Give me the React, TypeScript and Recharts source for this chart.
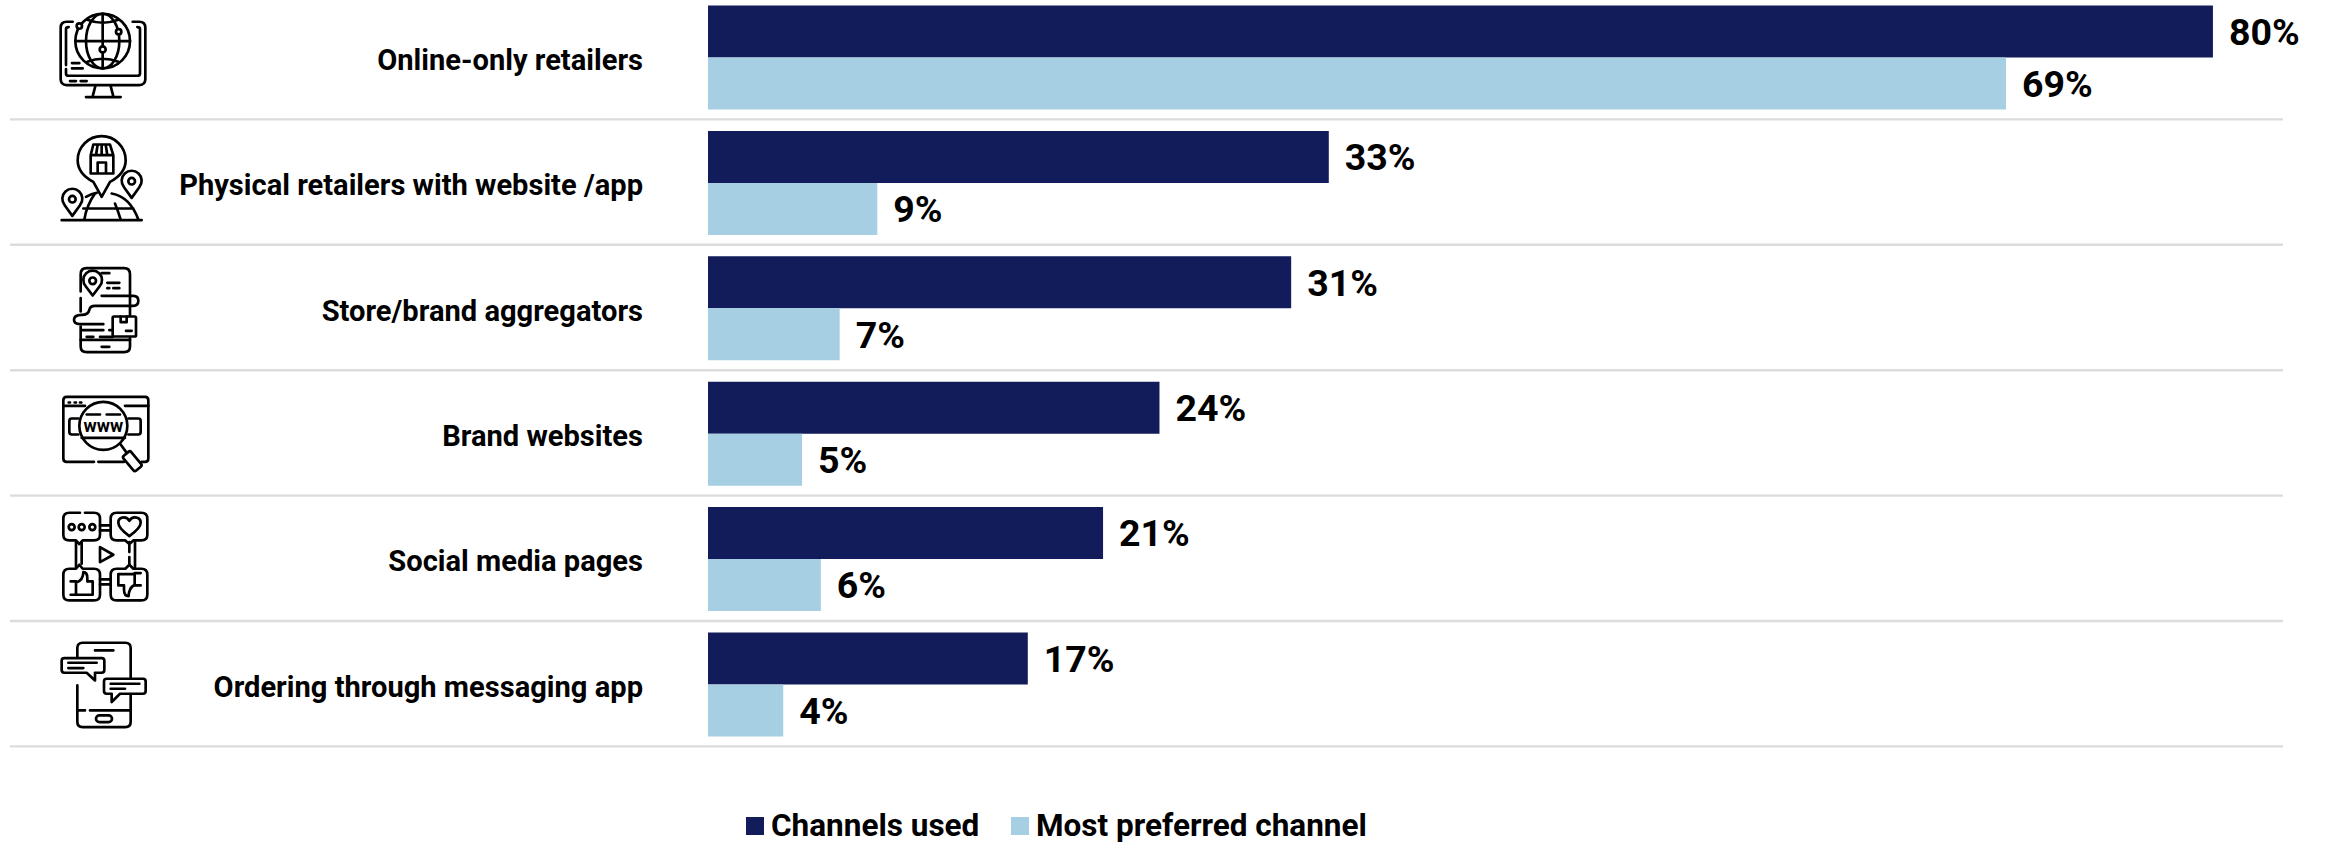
import React from 'react';
import { BarChart, Bar, XAxis, YAxis, Legend, LabelList } from 'recharts';

const categories = [
  'Online-only retailers',
  'Physical retailers with website /app',
  'Store/brand aggregators',
  'Brand websites',
  'Social media pages',
  'Ordering through messaging app',
];
const channelsUsed = [80, 33, 31, 24, 21, 17];
const mostPreferred = [69, 9, 7, 5, 6, 4];

const rows = categories.map((name, i) => ({
  name,
  used: channelsUsed[i],
  preferred: mostPreferred[i],
}));

const DARK = '#131c5a';
const LIGHT = '#a6cfe3';
const FONT = 'Roboto, sans-serif';
const TEXT_SQUEEZE = 0.97;

const iconMonitor = (
  <>
    <path d="M68 50H50Q32 50 32 68V222Q32 240 50 240H268Q286 240 286 222V68Q286 50 268 50H248" />
    <path d="M48 180V72Q48 66 56 66M48 192V205Q48 212 56 212H262Q270 212 270 205V72Q270 66 262 66" />
    <path d="M136 243L128 274M182 243L190 274M108 276H212" />
    <path d="M66 174H88M66 190H98M60 228H78M92 228H110" />
    <circle cx="158" cy="108" r="82" fill="#fff" />
    <ellipse cx="158" cy="108" rx="50" ry="82" />
    <path d="M158 26V125M158 142V190M76 108H240M112 44Q158 62 205 44M112 170Q158 152 205 170" />
    <circle cx="88" cy="63" r="8" fill="#fff" />
    <circle cx="206" cy="80" r="8" fill="#fff" />
    <circle cx="158" cy="133" r="9" fill="#fff" />
  </>
);

const iconStore = (
  <>
    <path d="M35 285H275M265 283Q240 215 185 205M108 215Q125 205 140 203M103 283Q110 240 135 205M212 283Q205 260 195 235M100 250H250" />
    <path d="M155 215L130 170Q83 145 83 105A72 72 0 1 1 227 105Q227 145 180 170Z" fill="#fff" />
    <path d="M122 90L130 58H180L190 90ZM122 90V145H190V90M143 145V112H168V145M143 58L138 90M167 58L172 90M155 58V90" />
    <path d="M245 218L222 186A30 30 0 1 1 268 186Z" fill="#fff" />
    <circle cx="245" cy="168" r="10" />
    <path d="M67 272L44 240A30 30 0 1 1 90 240Z" fill="#fff" />
    <circle cx="67" cy="222" r="10" />
  </>
);

const iconPhoneRoute = (
  <>
    <path d="M92 100V48Q92 30 110 30H222Q240 30 240 48V175M92 120V160M92 205V265Q92 282 110 282H222Q240 282 240 265V235" />
    <path d="M155 45H178M155 266H178M92 245H240M172 74H208M172 90H178M190 90H208" />
    <path d="M128 112L107 84A28 28 0 1 1 149 84Z" />
    <circle cx="128" cy="68" r="10" />
    <path d="M155 113H250Q265 113 265 128Q265 143 250 143H135Q120 143 118 155Q115 170 95 170Q72 170 72 185Q72 198 90 198H160" />
    <rect x="188" y="175" width="70" height="60" rx="4" fill="#fff" />
    <path d="M212 175V192H230V175M228 218H245M178 216H188M95 216H160M110 236H130M150 236H188" />
  </>
);

const iconBrowser = (
  <>
    <path d="M132 230H50Q40 230 40 220V45Q40 35 50 35H285Q295 35 295 45V220Q295 230 285 230H275M145 230H222" />
    <path d="M40 62H105M225 62H295M56 52H60M74 52H78M90 52H94" />
    <path d="M85 100H65Q58 100 58 108V140Q58 148 65 148H85M235 100H265Q272 100 272 108V140Q272 148 265 148H235" />
    <circle cx="160" cy="122" r="72" />
    <path d="M110 88H150M170 88H210M95 158H225M212 178L228 200" />
    <rect x="232" y="199" width="30" height="58" rx="6" transform="rotate(-40 247 228)" fill="#fff" />
    <text x="160" y="141" textAnchor="middle" fontFamily={FONT} fontWeight={700} fontSize={54} fill="#000" stroke="none">www</text>
  </>
);

const iconSocial = (
  <>
    <path d="M90 22H58Q40 22 40 40V88Q40 105 58 105H78L88 116L98 105H132Q150 105 150 88V40Q150 22 132 22H105" />
    <path d="M200 22H274Q292 22 292 40V88Q292 105 274 105H250L238 116L226 105H200Q182 105 182 88V40Q182 22 200 22Z" />
    <path d="M58 190H78L88 178L98 190H132Q150 190 150 208V267Q150 285 132 285H58Q40 285 40 267V208Q40 190 58 190Z" />
    <path d="M200 190H226L238 178L250 190H274Q292 190 292 208V267Q292 285 274 285H200Q182 285 182 267V208Q182 190 200 190Z" />
    <path d="M150 60H182M150 75H182M150 222H182M150 237H182M78 110V185M95 110V175M238 110V140M238 155V175M255 110V185" />
    <circle cx="65" cy="65" r="9" />
    <circle cx="95" cy="65" r="9" />
    <circle cx="127" cy="65" r="9" />
    <path d="M238 92Q205 68 205 52Q205 36 222 36Q232 36 238 46Q244 36 254 36Q272 36 272 52Q272 68 238 92Z" />
    <path d="M150 125L190 148L150 170Z" />
    <path d="M62 228H78V268H62M78 232Q100 225 100 200Q112 200 112 218V228H128V268H78" />
    <path d="M272 203H254V240H272M254 206H205V240H222V252Q222 272 236 272Q236 248 254 238" />
  </>
);

const iconMessaging = (
  <>
    <path d="M82 68V38Q82 22 98 22H226Q242 22 242 38V260Q242 275 226 275H98Q82 275 82 260V150M82 180V225" />
    <path d="M135 45H190M85 225H105M120 225H240" />
    <rect x="138" y="240" width="48" height="20" rx="10" />
    <path d="M43 68H155Q163 68 163 76V104Q163 112 155 112H135V135L110 112H43Q35 112 35 104V76Q35 68 43 68Z" fill="#fff" />
    <path d="M55 82H140M55 98H100" />
    <path d="M170 130H279Q287 130 287 138V167Q287 175 279 175H210L185 200V175H170Q162 175 162 167V138Q162 130 170 130Z" fill="#fff" />
    <path d="M182 145H268M182 160H225" />
  </>
);

const icons = [iconMonitor, iconStore, iconPhoneRoute, iconBrowser, iconSocial, iconMessaging];
const iconLift = [52.7, 58, 50.4, 48.8, 54, 49.4];

// Left-hand column of each row: icon, right-aligned name and the rule under the row
function RowTick({ x, y, index, payload }: any) {
  return (
    <g>
      <line x1={10} x2={2283} y1={y + 61.6} y2={y + 61.6} stroke="#dcdcdc" strokeWidth={2.4} />
      <g
        transform={`translate(50 ${y - iconLift[index]}) scale(${1 / 3})`}
        fill="none"
        stroke="#000"
        strokeWidth={8}
        strokeLinecap="round"
        strokeLinejoin="round"
      >
        {icons[index]}
      </g>
      <text
        transform={`translate(643 ${y + 12}) scale(${TEXT_SQUEEZE} 1)`}
        textAnchor="end"
        fontFamily={FONT}
        fontWeight={700}
        fontSize={30}
        fill="#000"
      >
        {payload.value}
      </text>
    </g>
  );
}

function LegendRow() {
  const items = [
    { label: 'Channels used', color: DARK, width: 265 },
    { label: 'Most preferred channel', color: LIGHT, width: 365 },
  ];
  return (
    <div style={{ display: 'flex', fontFamily: FONT, fontWeight: 700, fontSize: 31.5, lineHeight: '36px', color: '#000' }}>
      {items.map((item) => (
        <div key={item.label} style={{ display: 'flex', alignItems: 'center', width: item.width, whiteSpace: 'nowrap' }}>
          <span style={{ width: 18, height: 18, background: item.color, marginRight: 7, flex: 'none' }} />
          {item.label}
        </div>
      ))}
    </div>
  );
}

const valueLabelStyle = { fontFamily: FONT, fontWeight: 700, fontSize: 37.5, fill: '#000' };

export default function App() {
  return (
    <div style={{ position: 'absolute', left: 0, top: -20, width: 2330, height: 864, background: '#fff' }}>
      <BarChart
        width={2330}
        height={864}
        data={rows}
        layout="vertical"
        margin={{ top: 15.1, right: 23, bottom: 60.5, left: 0 }}
        barCategoryGap="8.3%"
        barGap={0}
      >
        <XAxis type="number" hide domain={[0, 85]} />
        <YAxis type="category" dataKey="name" width={708} tickLine={false} axisLine={false} tick={<RowTick />} interval={0} />
        <Legend
          content={<LegendRow />}
          wrapperStyle={{ left: 746, top: 828, width: 760 }}
        />
        <Bar dataKey="used" name="Channels used" fill={DARK} isAnimationActive={false}>
          <LabelList
            dataKey="used"
            position="right"
            offset={16}
            formatter={(v: number) => `${v}%`}
            style={valueLabelStyle}
          />
        </Bar>
        <Bar dataKey="preferred" name="Most preferred channel" fill={LIGHT} isAnimationActive={false}>
          <LabelList
            dataKey="preferred"
            position="right"
            offset={16}
            formatter={(v: number) => `${v}%`}
            style={valueLabelStyle}
          />
        </Bar>
      </BarChart>
    </div>
  );
}
